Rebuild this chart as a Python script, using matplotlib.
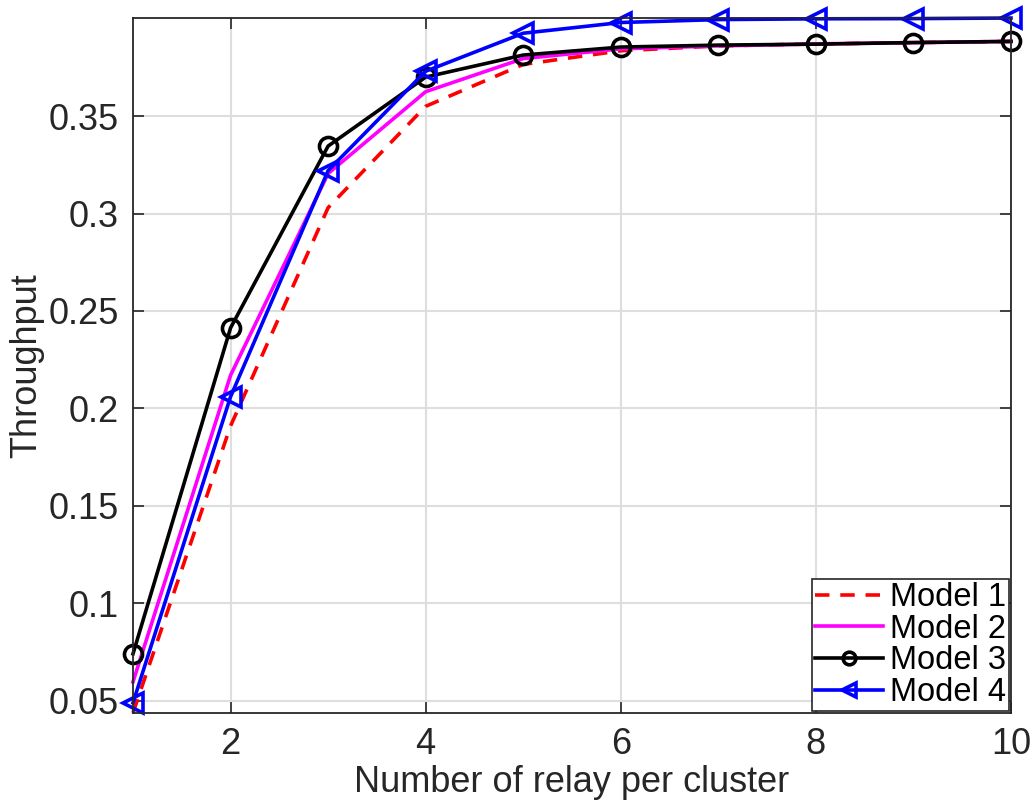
import numpy as np
import matplotlib
matplotlib.use("Agg")
import matplotlib.pyplot as plt

plt.rcParams['font.family'] = ['Liberation Sans', 'DejaVu Sans']

# Data
relays = [1, 2, 3, 4, 5, 6, 7, 8, 9, 10]
model1 = [0.0438, 0.191, 0.303, 0.355, 0.3765, 0.3835, 0.386, 0.387, 0.3877, 0.3883]
model2 = [0.0597, 0.217, 0.3205, 0.3625, 0.3795, 0.3845, 0.386, 0.387, 0.3877, 0.3883]
model3 = [0.0741, 0.2413, 0.3346, 0.3700, 0.3813, 0.3854, 0.3864, 0.3869, 0.3877, 0.3883]
model4 = [0.0490, 0.2060, 0.3220, 0.3730, 0.3925, 0.3980, 0.3995, 0.3999, 0.4000, 0.4003]

xticks = [2, 4, 6, 8, 10]
yticks = [0.05, 0.1, 0.15, 0.2, 0.25, 0.3, 0.35]
ytick_labels = ["0.05", "0.1", "0.15", "0.2", "0.25", "0.3", "0.35"]

txt = '#262626'

fig = plt.figure(figsize=(10.35, 8.01), dpi=100)
ax = fig.add_axes([0.1285, 0.110, 0.8483, 0.8675])

lw = 2.6
ax.plot(relays, model1, '--', color='red', lw=lw, dashes=(4, 3), label='Model 1', clip_on=False)
ax.plot(relays, model2, '-', color='magenta', lw=lw, label='Model 2', clip_on=False)
ax.plot(relays, model3, '-o', color='black', lw=lw, ms=13, mfc='none', mew=2.6,
        label='Model 3', clip_on=False)
ax.plot(relays, model4, '-<', color='blue', lw=lw, ms=14, mfc='none', mew=2.6,
        label='Model 4', clip_on=False)

ax.set_xlim(1, 10)
ax.set_ylim(min(model1), max(model4))
ax.set_xticks(xticks)
ax.set_yticks(yticks)
ax.set_yticklabels(ytick_labels)

ax.grid(True, color='#dedede', lw=1.5)
ax.set_axisbelow(True)
ax.tick_params(direction='in', length=8, width=1.2, labelsize=26, colors=txt,
               top=True, right=True, pad=10)
for s in ax.spines.values():
    s.set_color(txt)
    s.set_linewidth(1.3)

ax.set_xlabel('Number of relay per cluster', fontsize=26, color=txt, labelpad=2)
ax.set_ylabel('Throughput', fontsize=26, color=txt, labelpad=3)

leg = ax.legend(loc='lower right', fontsize=23.5, handlelength=2.1, handletextpad=0.2,
                labelspacing=0.02, borderpad=0.1, borderaxespad=0.05, markerscale=0.7,
                fancybox=False, framealpha=1)
leg.get_frame().set_edgecolor(txt)
leg.get_frame().set_linewidth(1.2)

fig.savefig('out.png', dpi=100)
